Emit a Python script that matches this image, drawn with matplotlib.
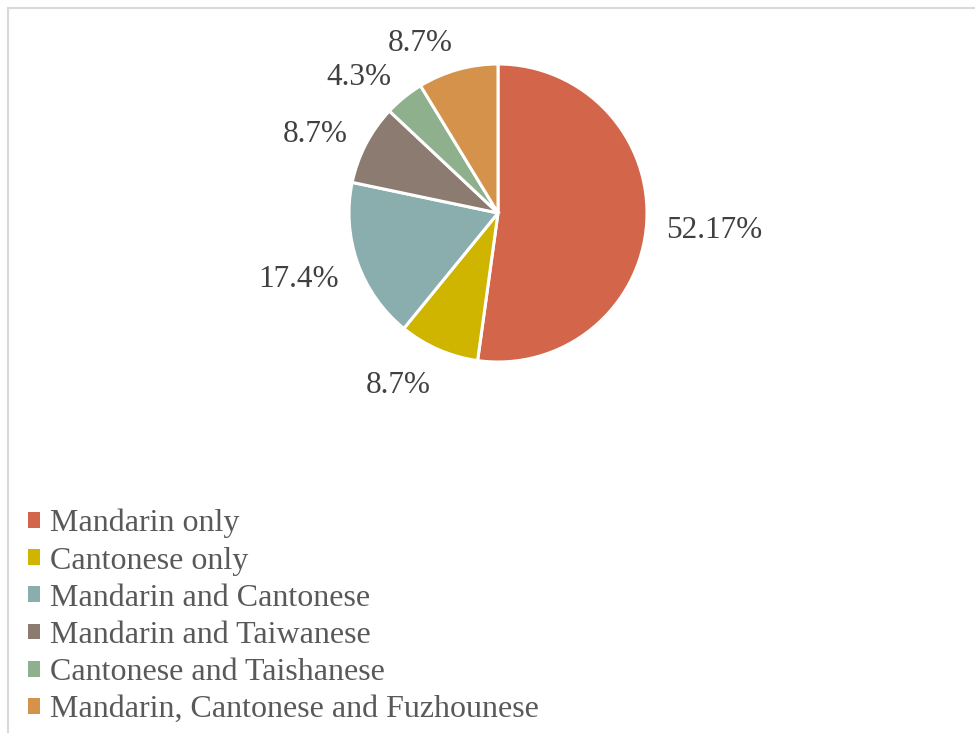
import numpy as np
import matplotlib.pyplot as plt
from matplotlib.patches import Patch

plt.rcParams['font.family'] = ['Liberation Serif', 'DejaVu Serif']

# Share of respondents by language(s) spoken
categories = ['Mandarin only', 'Cantonese only', 'Mandarin and Cantonese',
              'Mandarin and Taiwanese', 'Cantonese and Taishanese',
              'Mandarin, Cantonese and Fuzhounese']
shares = [52.17, 8.7, 17.4, 8.7, 4.3, 8.7]
pct_labels = ['52.17%', '8.7%', '17.4%', '8.7%', '4.3%', '8.7%']
colors = ['#D2654A', '#CFB400', '#8AADAD', '#8B7B70', '#8FB08C', '#D4924A']

W, H = 975, 733
fig = plt.figure(figsize=(W / 100, H / 100), dpi=100)

# thin grey frame like the exported chart area
fig.patches.append(plt.Rectangle((8 / W, -0.01), (W + 20) / W, (H - 7.5) / H + 0.01,
                                 transform=fig.transFigure, fill=False,
                                 edgecolor='#D9D9D9', linewidth=1.5))

# pie axes: centre (498, 213 from top), radius 149 px
r_px = 149
lim = 1.5
size = 2 * lim * r_px
ax = fig.add_axes([(498 - size / 2) / W, (H - 213 - size / 2) / H, size / W, size / H])
wedges, _ = ax.pie(shares, colors=colors, startangle=90, counterclock=False,
                   radius=1, wedgeprops=dict(edgecolor='white', linewidth=2.2))
ax.set_xlim(-lim, lim)
ax.set_ylim(-lim, lim)
ax.set_aspect('equal')
ax.axis('off')

# outside-end labels: near edge of the text box sits just off the rim
d = 1.134
half_h = 0.087
nudge = -0.037
for w, lab in zip(wedges, pct_labels):
    ang = np.deg2rad((w.theta1 + w.theta2) / 2)
    c, s = np.cos(ang), np.sin(ang)
    ha = 'left' if c > 0.1 else ('right' if c < -0.1 else 'center')
    ax.text(d * c, d * s + s * half_h + nudge, lab, ha=ha, va='center', fontsize=22.5,
            color='#404040', clip_on=False)

handles = [Patch(facecolor=col, edgecolor='none') for col in colors]
fig.legend(handles, categories, loc='upper left', bbox_to_anchor=(28 / W, 1 - 509 / H),
           frameon=False, fontsize=23, labelcolor='#595959',
           handlelength=0.38, handleheight=0.38, handletextpad=0.31,
           labelspacing=0.255, borderaxespad=0, borderpad=0)

fig.savefig('out.png', dpi=100)
